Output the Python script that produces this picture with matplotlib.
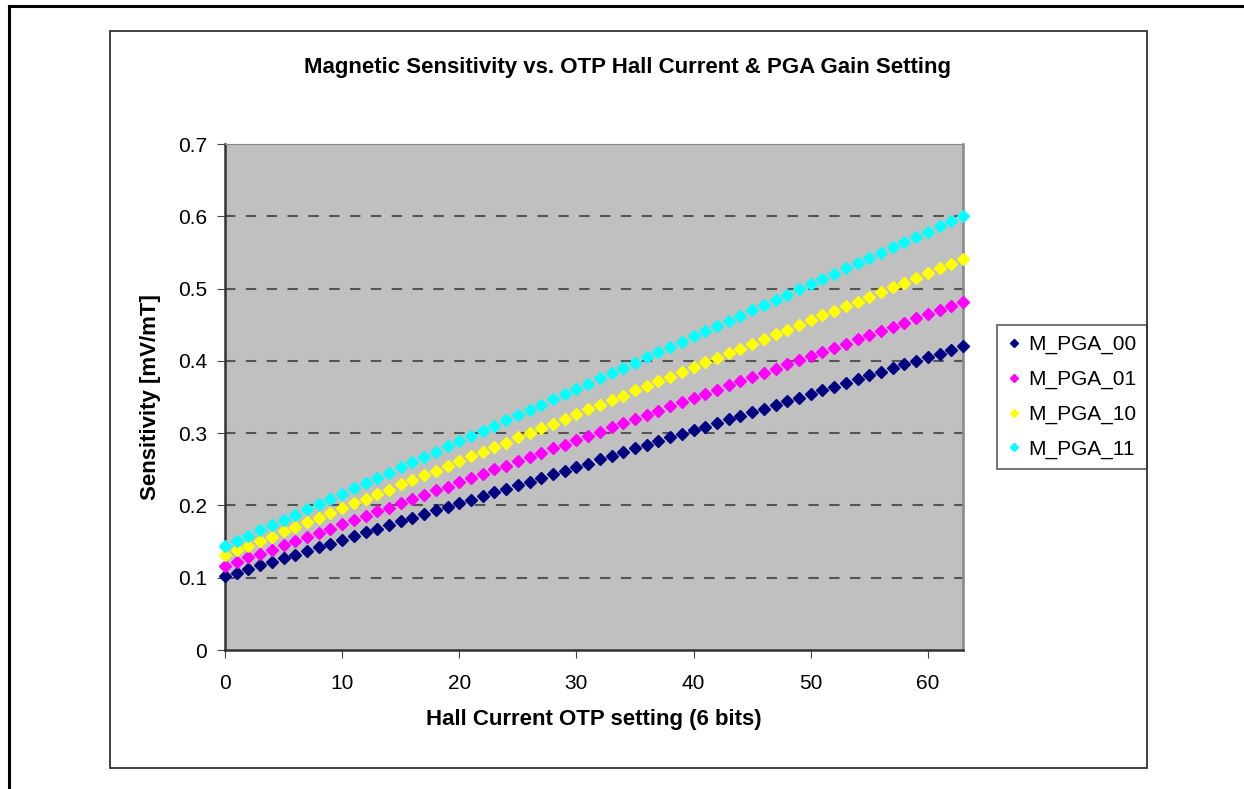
import matplotlib.pyplot as plt
from matplotlib.lines import Line2D
from matplotlib.patches import Rectangle

plt.rcParams['font.family'] = ['Liberation Sans', 'DejaVu Sans']

# Hall current OTP code 0..63
otp = list(range(64))

m_pga_00 = [0.102, 0.107, 0.112, 0.117, 0.122, 0.127, 0.132, 0.137, 0.142, 0.147,
            0.152, 0.158, 0.163, 0.168, 0.173, 0.178, 0.183, 0.188, 0.193, 0.198,
            0.203, 0.208, 0.213, 0.218, 0.223, 0.228, 0.233, 0.238, 0.243, 0.248,
            0.253, 0.258, 0.264, 0.269, 0.274, 0.279, 0.284, 0.289, 0.294, 0.299,
            0.304, 0.309, 0.314, 0.319, 0.324, 0.329, 0.334, 0.339, 0.344, 0.349,
            0.354, 0.359, 0.364, 0.370, 0.375, 0.380, 0.385, 0.390, 0.395, 0.400,
            0.405, 0.410, 0.415, 0.420]
m_pga_01 = [0.116, 0.122, 0.128, 0.133, 0.139, 0.145, 0.151, 0.157, 0.162, 0.168,
            0.174, 0.180, 0.186, 0.192, 0.197, 0.203, 0.209, 0.215, 0.221, 0.226,
            0.232, 0.238, 0.244, 0.250, 0.255, 0.261, 0.267, 0.273, 0.279, 0.284,
            0.290, 0.296, 0.302, 0.308, 0.314, 0.319, 0.325, 0.331, 0.337, 0.343,
            0.348, 0.354, 0.360, 0.366, 0.372, 0.377, 0.383, 0.389, 0.395, 0.401,
            0.407, 0.412, 0.418, 0.424, 0.430, 0.436, 0.441, 0.447, 0.453, 0.459,
            0.465, 0.470, 0.476, 0.482]
m_pga_10 = [0.131, 0.138, 0.144, 0.151, 0.157, 0.164, 0.170, 0.177, 0.183, 0.190,
            0.196, 0.203, 0.209, 0.216, 0.222, 0.229, 0.235, 0.242, 0.248, 0.255,
            0.261, 0.268, 0.274, 0.281, 0.287, 0.294, 0.300, 0.307, 0.313, 0.320,
            0.326, 0.333, 0.339, 0.346, 0.352, 0.359, 0.365, 0.372, 0.378, 0.385,
            0.391, 0.398, 0.404, 0.411, 0.417, 0.424, 0.430, 0.437, 0.443, 0.450,
            0.456, 0.463, 0.469, 0.476, 0.482, 0.489, 0.495, 0.502, 0.508, 0.515,
            0.521, 0.528, 0.534, 0.541]
m_pga_11 = [0.144, 0.151, 0.158, 0.166, 0.173, 0.180, 0.187, 0.195, 0.202, 0.209,
            0.216, 0.224, 0.231, 0.238, 0.245, 0.253, 0.260, 0.267, 0.274, 0.282,
            0.289, 0.296, 0.303, 0.310, 0.318, 0.325, 0.332, 0.339, 0.347, 0.354,
            0.361, 0.368, 0.376, 0.383, 0.390, 0.397, 0.405, 0.412, 0.419, 0.426,
            0.434, 0.441, 0.448, 0.455, 0.462, 0.470, 0.477, 0.484, 0.491, 0.499,
            0.506, 0.513, 0.520, 0.528, 0.535, 0.542, 0.549, 0.557, 0.564, 0.571,
            0.578, 0.586, 0.593, 0.600]

series = [('M_PGA_00', m_pga_00, '#000080'),
          ('M_PGA_01', m_pga_01, '#FF00FF'),
          ('M_PGA_10', m_pga_10, '#FFFF00'),
          ('M_PGA_11', m_pga_11, '#00FFFF')]

fig = plt.figure(figsize=(12.44, 7.89), dpi=100)

# page frame (top + left edge) and chart frame
fig.add_artist(Line2D([9/1244, 1.0], [1-6/789, 1-6/789], color='black', lw=2.2))
fig.add_artist(Line2D([9/1244, 9/1244], [0, 1-6/789], color='black', lw=2.2))
fig.add_artist(Rectangle((110/1244, 1-768/789), 1037/1244, 737/789, fill=False,
                         edgecolor='#333333', lw=1.3))

ax = fig.add_axes([225/1244, 1-650/789, 738/1244, 506/789])
ax.set_facecolor('#C0C0C0')

for name, vals, col in series:
    ax.plot(otp, vals, linestyle='none', marker='D', markersize=6,
            color=col, label=name, clip_on=False, zorder=3)

ax.set_xlim(0, 63)
ax.set_ylim(0, 0.7)
ax.set_xticks([0, 10, 20, 30, 40, 50, 60])
ax.set_yticks([0, 0.1, 0.2, 0.3, 0.4, 0.5, 0.6, 0.7])
ax.set_yticklabels(['0', '0.1', '0.2', '0.3', '0.4', '0.5', '0.6', '0.7'])
ax.tick_params(labelsize=15, length=6, color='#444444', pad=7)
ax.tick_params(axis='x', pad=11)

for y in [0.1, 0.2, 0.3, 0.4, 0.5, 0.6]:
    ax.axhline(y, color='#555555', lw=1.5, dashes=(5, 5), zorder=1)

ax.spines['left'].set_color('#333333')
ax.spines['bottom'].set_color('#333333')
ax.spines['left'].set_linewidth(1.8)
ax.spines['bottom'].set_linewidth(1.8)
ax.spines['top'].set_color('#888888')
ax.spines['right'].set_color('#888888')
ax.spines['right'].set_linewidth(1.8)

ax.set_xlabel('Hall Current OTP setting (6 bits)', fontsize=16, fontweight='bold', labelpad=12)
ax.set_ylabel('Sensitivity [mV/mT]', fontsize=16, fontweight='bold', labelpad=12)
fig.text(628/1244, 1-67/789, 'Magnetic Sensitivity vs. OTP Hall Current & PGA Gain Setting',
         ha='center', va='center', fontsize=16, fontweight='bold')

leg = ax.legend(loc='center left', bbox_to_anchor=((997 - 225)/738, 0.5),
                borderaxespad=0, fontsize=15, frameon=True, fancybox=False,
                edgecolor='#333333', markerscale=0.75, borderpad=0.5,
                labelspacing=0.75, handlelength=0.6, handletextpad=0.4)
leg.get_frame().set_linewidth(1.2)

fig.savefig('out.png', dpi=100)
